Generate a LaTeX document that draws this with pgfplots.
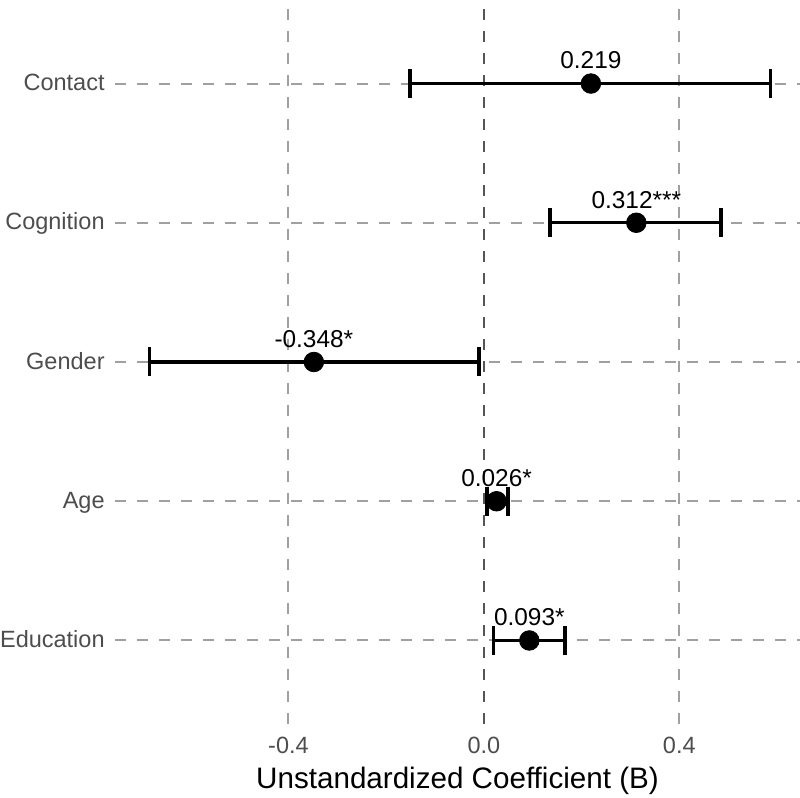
\documentclass[border=0pt]{standalone}
\usepackage{pgfplots}
\pgfplotsset{compat=1.18}
\usepackage{pgfplotstable}
\usepackage{fontspec}
\setmainfont{Liberation Sans}

\definecolor{gridgray}{RGB}{160,160,160}
\definecolor{zerogray}{RGB}{85,85,85}
\definecolor{ticktext}{RGB}{77,77,77}

% Point estimates; pos is the row on the y axis
\pgfplotstableread[col sep=comma]{
var,pos,b,lab
Contact,5,0.219,0.219
Cognition,4,0.312,0.312***
Gender,3,-0.348,-0.348*
Age,2,0.026,0.026*
Education,1,0.093,0.093*
}\coef

\begin{document}
\begin{tikzpicture}
\begin{axis}[
  scale only axis,
  width=342.5pt, height=362pt,
  xmin=-0.755, xmax=0.647,
  ymin=0.4, ymax=5.6,
  axis line style={draw=none},
  major tick length=0pt,
  xtick={-0.4,0,0.4},
  xticklabels={-0.4,0.0,0.4},
  ytick={1,2,3,4,5},
  yticklabels={Education,Age,Gender,Cognition,Contact},
  grid=major,
  major grid style={gridgray, line width=1pt, dash pattern=on 5.5pt off 5.5pt},
  tick label style={font=\fontsize{11.75}{14}\selectfont, text=ticktext},
  xticklabel style={anchor=north, inner sep=0pt, yshift=-6.5pt},
  yticklabel style={anchor=base east, inner sep=0pt, xshift=-5pt, yshift=-0.36em},
  xlabel={Unstandardized Coefficient (B)},
  xlabel style={at={(axis description cs:0.5,0)}, anchor=base, inner sep=0pt,
    yshift=-32pt, font=\fontsize{14.8}{17}\selectfont, text=black},
  clip=false,
  ci/.style={black, line width=1.7pt, mark=|, mark size=7.25pt,
    mark options={line width=1.7pt}},
]
\coordinate (pSW) at (rel axis cs:0,0);
\coordinate (pNE) at (rel axis cs:1,1);

% reference line at zero
\addplot[zerogray, line width=1pt, dash pattern=on 5.5pt off 5.5pt]
  coordinates {(0,0.4) (0,5.6)};

% 95% confidence intervals
\addplot[ci] coordinates {(-0.151,5) (0.587,5)};
\addplot[ci] coordinates {(0.135,4) (0.485,4)};
\addplot[ci] coordinates {(-0.685,3) (-0.010,3)};
\addplot[ci] coordinates {(0.006,2) (0.049,2)};
\addplot[ci] coordinates {(0.020,1) (0.166,1)};

% point estimates with labels
\addplot[black, only marks, mark=*, mark size=4.9pt,
  nodes near coords, point meta=explicit symbolic,
  every node near coord/.append style={font=\fontsize{12.2}{14}\selectfont,
    text=black, inner sep=0pt, yshift=7pt}]
  table[x=b, y=pos, meta=lab] {\coef};
\end{axis}
\pgfresetboundingbox
\path ([shift={(-57.5pt,-36.5pt)}]pSW) rectangle (pNE);
\end{tikzpicture}
\end{document}
